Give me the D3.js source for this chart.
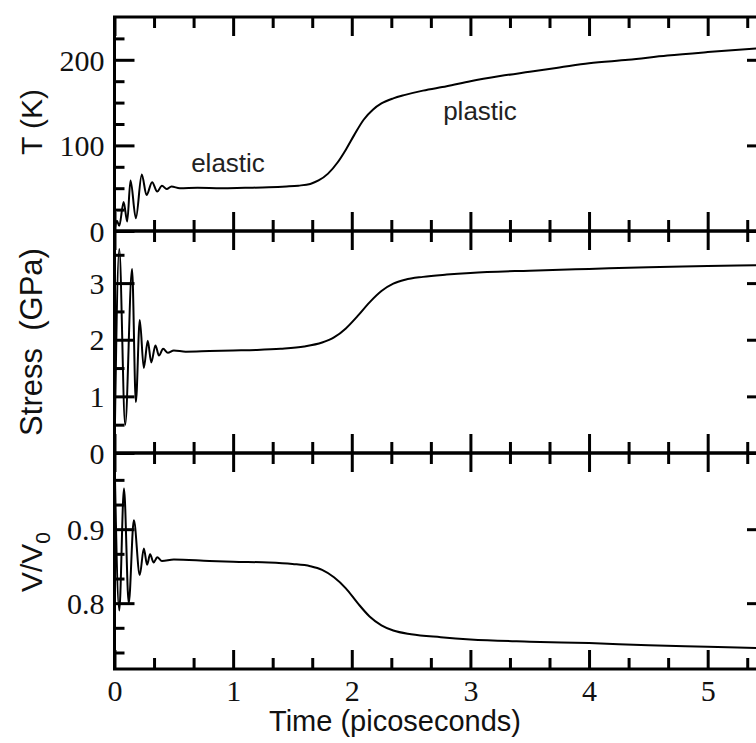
<!DOCTYPE html>
<html>
<head>
<meta charset="utf-8">
<script src="https://cdn.jsdelivr.net/npm/d3@7"></script>
<style>
  html, body { margin: 0; padding: 0; background: #fff; overflow: hidden; }
  svg { display: block; }
</style>
</head>
<body>
<svg id="chart" width="756" height="743"></svg>
<script>
// ---------------- data ----------------
const tempTime = [0, 0.02, 0.04, 0.077, 0.107, 0.135, 0.18, 0.23, 0.27, 0.317, 0.36, 0.40, 0.44, 0.48, 0.55, 0.7, 0.9, 1.1, 1.3, 1.45, 1.55, 1.65, 1.72, 1.8, 1.88, 1.95, 2.02, 2.1, 2.18, 2.25, 2.35, 2.45, 2.6, 2.8, 3.0, 3.25, 3.5, 3.75, 4.0, 4.33, 4.66, 5.0, 5.5];
const tempK    = [0, 12, 6, 34, 11, 59, 15, 66, 42, 57, 46, 53, 49, 52, 50, 50.5, 50, 50.5, 51, 52, 53, 55, 59, 67, 80, 95, 112, 130, 142, 149, 155, 159, 164, 169, 175, 181, 186, 191, 196, 200, 205, 209, 214];

const stressTime = [0, 0.04, 0.09, 0.148, 0.18, 0.213, 0.247, 0.28, 0.31, 0.345, 0.375, 0.41, 0.45, 0.5, 0.6, 0.8, 1.0, 1.2, 1.4, 1.6, 1.75, 1.85, 1.95, 2.05, 2.15, 2.25, 2.35, 2.45, 2.6, 2.8, 3.0, 3.5, 4.0, 4.5, 5.0, 5.5];
const stressGPa  = [0, 3.6, 0.5, 3.25, 0.9, 2.35, 1.5, 1.98, 1.6, 1.9, 1.72, 1.84, 1.77, 1.81, 1.79, 1.80, 1.81, 1.82, 1.84, 1.88, 1.95, 2.04, 2.2, 2.42, 2.66, 2.86, 2.99, 3.06, 3.11, 3.15, 3.18, 3.22, 3.25, 3.28, 3.30, 3.32];

const volTime = [0, 0.04, 0.08, 0.12, 0.163, 0.213, 0.247, 0.275, 0.30, 0.33, 0.36, 0.40, 0.5, 0.8, 1.0, 1.3, 1.5, 1.65, 1.75, 1.85, 1.95, 2.05, 2.15, 2.25, 2.35, 2.5, 2.75, 3.0, 3.5, 4.0, 4.5, 5.0, 5.5];
const volRatio = [1.0, 0.79, 0.955, 0.80, 0.912, 0.838, 0.874, 0.852, 0.866, 0.855, 0.862, 0.857, 0.859, 0.857, 0.856, 0.855, 0.853, 0.850, 0.845, 0.835, 0.82, 0.80, 0.782, 0.770, 0.763, 0.758, 0.754, 0.751, 0.748, 0.746, 0.743, 0.741, 0.739];

const xTicks = [0, 1, 2, 3, 4, 5];
const tempTicks = [0, 100, 200];
const stressTicks = [0, 1, 2, 3];
const volTicks = [0.8, 0.9];

const xLabel = "Time (picoseconds)";
const annotElastic = "elastic";
const annotPlastic = "plastic";

// ---------------- layout ----------------
const left = 114.5, right = 767;
const panelTops = [17, 231, 453];
const panelBots = [231, 453, 669];
const SERIF = "'Liberation Serif', 'Times New Roman', 'DejaVu Serif', serif";
const SANS = "'Liberation Sans', Arial, 'DejaVu Sans', sans-serif";

const svg = d3.select("#chart");
const x = d3.scaleLinear().domain([0, 5.5]).range([left, right]);

const xMinor = d3.range(0, 5.5, 1 / 3).filter(v => Math.abs(v - Math.round(v)) > 1e-6);

const panels = [
  { time: tempTime, vals: tempK, domain: [0, 250], major: tempTicks, minor: [25, 50, 75, 125, 150, 175, 225], fmt: d3.format("d") },
  { time: stressTime, vals: stressGPa, domain: [0, 3.92], major: stressTicks, minor: [0.5, 1.5, 2.5, 3.5], fmt: d3.format("d") },
  { time: volTime, vals: volRatio, domain: [0.711, 1.003], major: volTicks, minor: [0.7333, 0.7667, 0.8333, 0.8667, 0.9333, 0.9667], fmt: d3.format(".1f") }
];

function styleTicks(g, w) {
  g.select(".domain").remove();
  g.selectAll(".tick line").attr("stroke", "#000").attr("stroke-width", w);
}

panels.forEach((p, i) => {
  const top = panelTops[i], bot = panelBots[i];
  const y = d3.scaleLinear().domain(p.domain).range([bot, top]);
  const g = svg.append("g");

  const pts = p.time.map((t, k) => [t, p.vals[k]]);
  g.append("path")
    .datum(pts)
    .attr("fill", "none")
    .attr("stroke", "#000")
    .attr("stroke-width", 2)
    .attr("stroke-linejoin", "round")
    .attr("d", d3.line().x(d => x(d[0])).y(d => y(d[1])).curve(d3.curveMonotoneX));

  g.append("g").attr("transform", `translate(${left},0)`)
    .call(d3.axisRight(y).tickValues(p.major).tickSize(20).tickFormat(""))
    .call(a => styleTicks(a, 3));
  g.append("g").attr("transform", `translate(${left},0)`)
    .call(d3.axisRight(y).tickValues(p.minor).tickSize(10).tickFormat(""))
    .call(a => styleTicks(a, 3));
  g.append("g").attr("transform", `translate(${right},0)`)
    .call(d3.axisLeft(y).tickValues(p.major).tickSize(20).tickFormat(""))
    .call(a => styleTicks(a, 3));
  g.append("g").attr("transform", `translate(${right},0)`)
    .call(d3.axisLeft(y).tickValues(p.minor).tickSize(10).tickFormat(""))
    .call(a => styleTicks(a, 3));

  g.append("g").attr("transform", `translate(${left - 10},0)`)
    .call(d3.axisLeft(y).tickValues(p.major).tickSize(0).tickPadding(0).tickFormat(p.fmt))
    .call(a => {
      a.select(".domain").remove();
      a.attr("font-family", SERIF).attr("font-size", 30);
      a.selectAll("text").style("font-family", SERIF).style("font-size", "30px").attr("fill", "#111")
        .attr("dy", "0.34em");
    });

  g.append("g").attr("transform", `translate(0,${top})`)
    .call(d3.axisBottom(x).tickValues(xTicks).tickSize(19).tickFormat(""))
    .call(a => styleTicks(a, 3));
  g.append("g").attr("transform", `translate(0,${top})`)
    .call(d3.axisBottom(x).tickValues(xMinor).tickSize(11).tickFormat(""))
    .call(a => styleTicks(a, 3));
  g.append("g").attr("transform", `translate(0,${bot})`)
    .call(d3.axisTop(x).tickValues(xTicks).tickSize(19).tickFormat(""))
    .call(a => styleTicks(a, 3));
  g.append("g").attr("transform", `translate(0,${bot})`)
    .call(d3.axisTop(x).tickValues(xMinor).tickSize(11).tickFormat(""))
    .call(a => styleTicks(a, 3));

  g.append("rect")
    .attr("x", left).attr("y", top)
    .attr("width", right - left).attr("height", bot - top)
    .attr("fill", "none").attr("stroke", "#000").attr("stroke-width", 3);
});

svg.append("g").attr("transform", `translate(0,${panelBots[2]})`)
  .call(d3.axisBottom(x).tickValues(xTicks).tickSize(0).tickPadding(0).tickFormat(d3.format("d")))
  .call(a => {
    a.select(".domain").remove();
    a.attr("font-family", SERIF).attr("font-size", 30);
    a.selectAll("text").style("font-family", SERIF).style("font-size", "30px").attr("fill", "#111")
      .attr("y", 32).attr("dy", 0);
  });

svg.append("text")
  .attr("x", 395).attr("y", 731)
  .attr("text-anchor", "middle")
  .style("font-family", SANS).style("font-size", "29px").attr("fill", "#111")
  .text(xLabel);

svg.append("text")
  .attr("transform", "translate(42,122) rotate(-90)")
  .attr("text-anchor", "middle")
  .style("font-family", SANS).style("font-size", "30px").attr("fill", "#111")
  .text("T (K)");

svg.append("text")
  .attr("transform", "translate(42,342) rotate(-90)")
  .attr("text-anchor", "middle")
  .style("font-family", SANS).style("font-size", "31px").attr("fill", "#111")
  .style("white-space", "pre")
  .text("Stress  (GPa)");

const vt = svg.append("text")
  .attr("transform", "translate(42,562) rotate(-90)")
  .attr("text-anchor", "middle")
  .style("font-family", SANS).style("font-size", "30px").attr("fill", "#111");
vt.append("tspan").text("V/V");
vt.append("tspan").style("font-size", "21px").attr("dy", 8).text("0");

svg.append("text")
  .attr("x", 228).attr("y", 172)
  .attr("text-anchor", "middle")
  .style("font-family", SANS).style("font-size", "26px").attr("fill", "#222")
  .text(annotElastic);
svg.append("text")
  .attr("x", 480).attr("y", 120)
  .attr("text-anchor", "middle")
  .style("font-family", SANS).style("font-size", "26px").attr("fill", "#222")
  .text(annotPlastic);
</script>
</body>
</html>
